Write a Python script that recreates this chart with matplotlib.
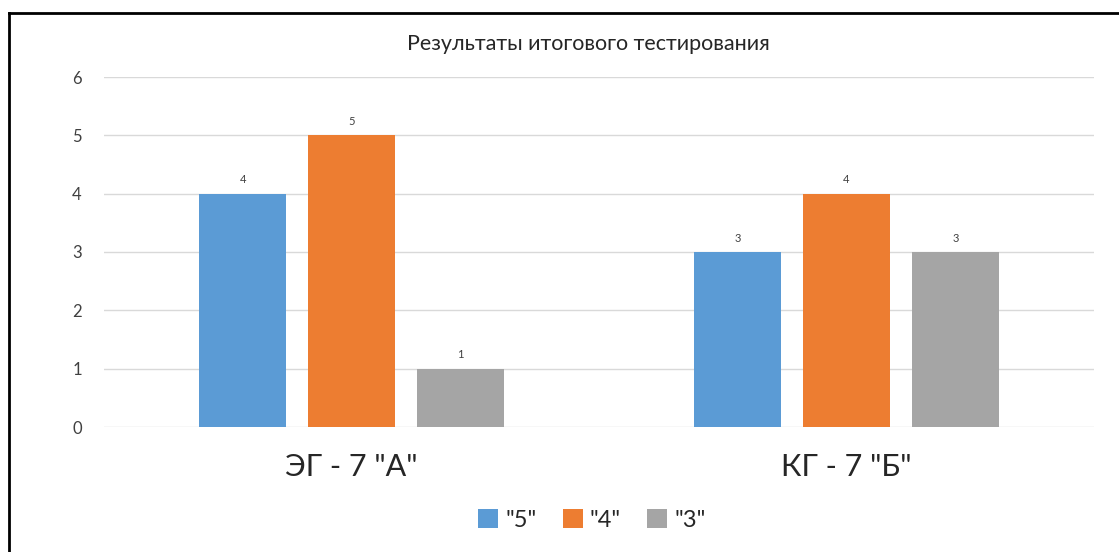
import numpy as np
import matplotlib.pyplot as plt
from matplotlib.lines import Line2D

plt.rcParams['font.family'] = ['Lato', 'DejaVu Sans']

title = 'Результаты итогового тестирования'
groups = ['ЭГ - 7 "А"', 'КГ - 7 "Б"']
series = ['"5"', '"4"', '"3"']
values_5 = [4, 3]
values_4 = [5, 4]
values_3 = [1, 3]
colors = ['#5B9BD5', '#ED7D31', '#A5A5A5']

fig = plt.figure(figsize=(11.19, 5.52), dpi=100)
ax = fig.add_axes([104 / 1119, 1 - 427 / 552, 990 / 1119, 350 / 552])

x = np.arange(len(groups))
width = 0.176
step = 0.22
for i, (vals, name) in enumerate(zip([values_5, values_4, values_3], series)):
    pos = x + (i - 1) * step
    bars = ax.bar(pos, vals, width, color=colors[i], label=name, zorder=3)
    for b, v in zip(bars, vals):
        ax.annotate(str(v), (b.get_x() + b.get_width() / 2, v), xytext=(0, 6),
                    textcoords='offset points', ha='center', va='bottom',
                    fontsize=8, color='#404040')

ax.set_xlim(-0.5, 1.5)
ax.set_ylim(0, 6)
ax.set_yticks(range(7))
ax.grid(axis='y', color='#D9D9D9', linewidth=1, zorder=0)
for s in ax.spines.values():
    s.set_visible(False)
ax.tick_params(axis='both', length=0)
ax.tick_params(axis='y', labelsize=12, labelcolor='#404040', pad=16)
ax.set_xticks(x)
ax.set_xticklabels(groups, fontsize=22, color='#262626')
ax.tick_params(axis='x', pad=19)

fig.text(588 / 1119, 1 - 44 / 552, title, ha='center', va='center',
         fontsize=15.5, color='#262626')

fig.legend(loc='center', bbox_to_anchor=(592 / 1119, 1 - 520 / 552), ncol=3,
           frameon=False, fontsize=17, handlelength=0.85, handleheight=0.85,
           handletextpad=0.3, columnspacing=1.1, labelcolor='#262626')

# outer frame (left and top edges only)
fig.add_artist(Line2D([9 / 1119, 9 / 1119], [0, 1 - 13 / 552], color='black',
                      linewidth=2, transform=fig.transFigure))
fig.add_artist(Line2D([9 / 1119, 1], [1 - 13 / 552, 1 - 13 / 552], color='black',
                      linewidth=2, transform=fig.transFigure))

fig.savefig('out.png', dpi=100)
